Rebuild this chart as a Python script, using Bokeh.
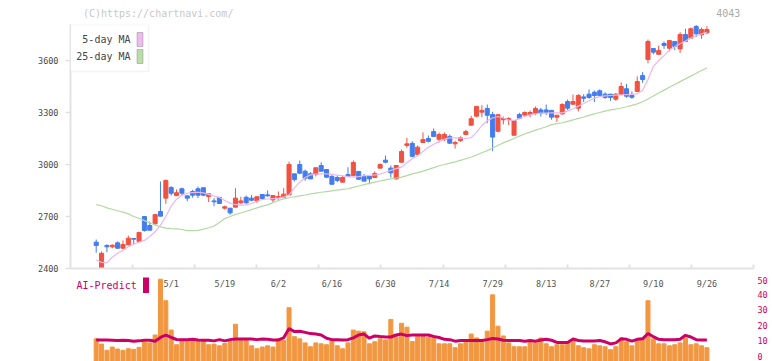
from bokeh.plotting import figure
from bokeh.layouts import column
from bokeh.models import Range1d, FixedTicker, LinearAxis, Label, BoxAnnotation, ColumnDataSource
from bokeh.embed import file_html
from bokeh.resources import INLINE
from bokeh.core.properties import value

# ---------------- data ----------------
opens = [2552,2402,2533,2525,2548,2517,2537,2573,2556,2700, 2648,2658,2729,2806,2867,2821,2860,2819,2844,2860,
         2866,2815,2790,2810,2748,2748,2754,2779,2811,2806, 2790,2827,2825,2796,2811,2810,2825,2946,3000,2961,
         2946,2942,2994,2971,2931,2925,2898,2942,2937,2960, 2931,2932,2925,2979,3025,2979,2917,3013,3110,3122,
         3058,3127,3150,3190,3146,3146,3162,3119,3138,3173, 3227,3279,3302,3323,3288,3192,3258,3258,3169,3288,
         3285,3288,3296,3315,3315,3312,3273,3292,3363,3348, 3325,3390,3406,3417,3425,3406,3406,3377,3406,3437,
         3398,3421,3513,3606,3669,3636,3698,3671,3710,3667, 3750,3729,3796,3748,3760]
highs = [2567,2498,2540,2540,2556,2562,2590,2573,2611,2700, 2671,2711,2902,2913,2875,2856,2867,2819,2854,2873,
         2866,2831,2806,2810,2763,2748,2863,2814,2821,2825, 2814,2827,2850,2821,2844,2863,3017,2946,3023,2971,
         2956,2981,3013,2971,2940,2937,2937,2984,3023,2960, 2946,2932,2960,3007,3052,2994,2994,3087,3154,3134,
         3110,3185,3167,3208,3185,3185,3173,3138,3162,3200, 3281,3335,3342,3346,3304,3292,3277,3273,3254,3298,
         3307,3311,3335,3327,3346,3315,3287,3354,3375,3404, 3406,3406,3433,3427,3433,3417,3406,3413,3473,3465,
         3421,3508,3533,3721,3669,3686,3710,3715,3710,3763, 3783,3790,3806,3790,3798]
lows = [2491,2398,2494,2517,2513,2513,2533,2542,2556,2613, 2621,2648,2702,2773,2821,2817,2817,2788,2808,2806,
        2817,2783,2759,2775,2740,2710,2754,2773,2773,2788, 2779,2798,2814,2783,2794,2810,2821,2902,2944,2906,
        2917,2932,2961,2923,2886,2898,2898,2931,2931,2912, 2904,2886,2925,2979,3007,2925,2913,3010,3096,3042,
        3058,3123,3127,3162,3127,3135,3119,3092,3131,3169, 3223,3273,3273,3238,3077,3186,3231,3227,3169,3261,
        3277,3273,3284,3277,3285,3258,3246,3288,3313,3344, 3306,3360,3379,3360,3390,3379,3367,3367,3402,3385,
        3379,3421,3471,3584,3636,3633,3667,3652,3660,3644, 3706,3725,3735,3725,3752]
closes = [2533,2488,2525,2534,2517,2538,2575,2569,2608,2619, 2621,2711,2702,2908,2834,2837,2834,2806,2823,2823,
          2823,2831,2785,2775,2756,2721,2806,2790,2779,2794, 2814,2804,2819,2821,2815,2829,3000,2913,2950,2921,
          2917,2981,2961,2927,2886,2908,2925,2931,3012,2915, 2904,2917,2948,3000,3013,2952,2994,3075,3119,3047,
          3100,3144,3134,3162,3173,3173,3123,3127,3154,3190, 3264,3335,3312,3284,3158,3287,3265,3265,3254,3267,
          3300,3300,3323,3296,3300,3273,3284,3346,3325,3363, 3398,3382,3387,3398,3398,3387,3387,3406,3450,3394,
          3388,3479,3490,3710,3648,3658,3687,3715,3681,3750, 3710,3783,3754,3779,3779]
ma5 = [2450,2435,2432,2465,2488,2505,2525,2540,2552,2562, 2585,2612,2650,2700,2760,2800,2822,2834,2838,2840,
       2836,2828,2818,2810,2792,2777,2768,2766,2767,2775, 2788,2798,2801,2803,2805,2812,2825,2865,2898,2925,
       2940,2945,2946,2946,2943,2939,2934,2930,2927,2930, 2935,2938,2940,2945,2955,2966,2976,2985,3010,3033,
       3050,3075,3100,3117,3132,3146,3154,3154,3152,3150, 3155,3185,3225,3252,3268,3277,3268,3256,3254,3265,
       3278,3287,3292,3296,3297,3298,3298,3298,3308,3322, 3337,3352,3368,3383,3392,3396,3398,3400,3401,3403,
       3405,3408,3428,3490,3565,3600,3628,3660,3680,3697, 3712,3729,3743,3754,3763]
ma25 = [2768,2762,2750,2742,2733,2725,2715,2700,2690,2676, 2663,2652,2640,2633,2630,2629,2625,2619,2618,2620,
        2627,2635,2645,2665,2688,2700,2712,2720,2730,2740, 2750,2760,2767,2780,2792,2802,2808,2814,2819,2824,
        2830,2835,2840,2844,2848,2852,2856,2860,2868,2876, 2884,2891,2898,2905,2911,2917,2922,2927,2936,2946,
        2953,2962,2972,2982,2993,3000,3008,3015,3024,3033, 3042,3055,3068,3080,3095,3110,3125,3138,3150,3164,
        3176,3187,3198,3208,3218,3230,3236,3241,3249,3257, 3266,3274,3283,3292,3300,3308,3315,3320,3326,3333,
        3341,3350,3362,3378,3395,3412,3429,3446,3462,3478, 3494,3510,3526,3542,3557]
volume = [11.1,7.7,3.7,5.8,4.5,3.7,4.7,4.3,5.6,9.0, 8.5,13.6,49.7,35.8,16.8,7.3,10.4,9.4,10.0,9.4,
          10.0,7.3,7.7,6.6,8.1,9.4,20.6,11.1,10.0,6.6, 4.7,5.8,6.6,5.8,11.1,10.0,31.3,12.5,11.1,8.5,
          6.0,8.5,7.9,7.3,10.0,6.6,4.7,8.5,16.8,16.1, 15.7,7.9,9.2,11.1,10.4,23.7,12.5,21.2,18.7,9.4,
          12.5,14.0,12.1,11.3,7.9,7.9,7.9,5.4,7.9,8.7, 14.2,11.7,10.0,16.1,39.6,19.3,13.0,8.5,6.0,6.0,
          6.0,9.8,8.5,11.7,7.9,6.0,7.3,7.3,8.5,10.4, 6.6,5.4,4.7,7.3,6.6,6.0,4.1,6.0,11.7,9.2,
          6.6,10.4,11.7,35.8,11.1,7.9,7.9,6.6,7.3,8.5, 11.7,7.3,7.9,6.6,5.4]
ai_predict = [10.4,10.4,10.4,10.2,10.0,10.2,10.0,9.5,9.8,10.2, 10.2,9.5,12.0,13.6,12.0,10.7,10.6,10.6,10.8,10.4,
              10.2,10.2,9.8,10.6,9.8,10.6,11.0,11.0,11.0,11.0, 10.6,11.0,10.8,10.4,10.4,11.8,17.8,15.8,16.0,15.3,
              14.5,14.2,13.6,11.5,10.6,10.6,10.4,10.6,11.7,13.6, 14.2,11.5,13.0,12.6,12.3,12.3,13.6,14.2,13.2,13.6,
              13.6,13.6,13.6,12.6,12.0,10.8,10.6,9.6,10.0,10.0, 10.0,10.0,10.0,10.6,11.3,11.0,10.2,10.0,10.0,10.0,
              9.6,10.0,9.6,10.4,10.8,10.2,8.8,8.7,8.8,11.0, 10.0,9.7,9.7,9.7,10.0,9.2,7.8,8.5,11.1,10.8,
              9.6,10.8,11.1,14.6,12.5,10.8,10.5,10.5,10.5,10.8, 13.4,12.3,10.6,10.4,10.4]
date_labels = ["5/1", "5/19", "6/2", "6/16", "6/30", "7/14", "7/29", "8/13", "8/27", "9/10", "9/26"]
date_label_idx = [14, 24, 34, 44, 54, 64, 74, 84, 94, 104, 114]
price_ticks = [2400, 2700, 3000, 3300, 3600]
ai_ticks = [0, 10, 20, 30, 40, 50]
watermark = "(C)https://chartnavi.com/"
code = "4043"

# ---------------- layout helpers (page pixel -> data) ----------------
W = 772
FRAME_L, FRAME_R = 70, 753
X_FIRST_PX, DAY_PX = 95.7, 5.357
def idx_at(px):
    return (px - X_FIRST_PX) / DAY_PX
def price_at(py):
    return price_ticks[0] + (268 - py) * 300 / 52
def ai_at(py):
    return (355.5 - py) / 1.544

MONO = "DejaVu Sans Mono"
UP, DOWN = "#f05242", "#437ded"
n = len(opens)
idx = list(range(n))
colors = [UP if c >= o else DOWN for o, c in zip(opens, closes)]
src = ColumnDataSource(dict(
    x=idx, o=opens, h=highs, l=lows, c=closes,
    top=[max(o, c) for o, c in zip(opens, closes)],
    bot=[min(o, c) for o, c in zip(opens, closes)],
    color=colors, ma5=ma5, ma25=ma25))

def bare(fig):
    fig.outline_line_color = None
    fig.grid.visible = False
    fig.background_fill_color = "white"
    fig.border_fill_color = "white"
    return fig

# ---------------- header strip (watermark + code) ----------------
head = bare(figure(width=W, height=24, output_backend="svg", toolbar_location=None,
                   x_range=Range1d(0, W), y_range=Range1d(24, 0),
                   x_axis_location=None, y_axis_location=None,
                   min_border_left=0, min_border_right=0, min_border_top=0, min_border_bottom=0))
head.text(x=[14], y=[12.5], text=[watermark], text_align="left", text_baseline="middle",
          text_font=value(MONO), text_font_size="10px", text_color="#c8c8c8")
head.text(x=[757], y=[12.5], text=[code], text_align="right", text_baseline="middle",
          text_font=value(MONO), text_font_size="10px", text_color="#aaaaaa")

# ---------------- price panel ----------------
xr0, xr1 = idx_at(FRAME_L), idx_at(FRAME_R)
top = bare(figure(width=W, height=252, output_backend="svg", toolbar_location=None,
                  x_range=Range1d(xr0, xr1),
                  y_range=Range1d(price_at(268), price_at(24)),
                  min_border_left=FRAME_L, min_border_right=W - FRAME_R,
                  min_border_top=0, min_border_bottom=8))

xa = top.xaxis[0]
xa.ticker = FixedTicker(ticks=[xr0 + (xr1 - xr0) * k / 11 for k in range(1, 12)])
xa.major_label_text_font_size = "0px"
xa.major_label_text_color = None
xa.major_label_standoff = 0
xa.major_tick_in = 4
xa.major_tick_out = 0
xa.minor_tick_line_color = None
xa.axis_line_color = "#e2e2e2"
xa.axis_line_width = 2
xa.major_tick_line_color = "#e2e2e2"
xa.major_tick_line_width = 2

ya = top.yaxis[0]
ya.ticker = FixedTicker(ticks=price_ticks)
ya.major_tick_in = 0
ya.major_tick_out = 5
ya.minor_tick_line_color = None
ya.axis_line_color = "#e2e2e2"
ya.axis_line_width = 2
ya.major_tick_line_color = "#e2e2e2"
ya.major_tick_line_width = 1.5
ya.major_label_standoff = 7
ya.major_label_text_font = MONO
ya.major_label_text_font_size = "8.5px"
ya.major_label_text_color = "#4a4a4a"

top.segment(x0="x", y0="l", x1="x", y1="h", color="color", line_width=1, source=src)
top.vbar(x="x", top="top", bottom="bot", width=0.76, fill_color="color", line_color="color",
         line_width=1, source=src)
top.line("x", "ma25", color="#b3d9a3", line_width=1.2, source=src)
top.line("x", "ma5", color="#ebb7eb", line_width=1.2, source=src)

# legend box (text left, swatch right, as in the reference)
top.add_layout(BoxAnnotation(left=idx_at(70), right=idx_at(148), top=price_at(24), bottom=price_at(71),
                             fill_color="white", fill_alpha=1, line_color="#dcdcdc", line_width=1.5))
for label, py, sw in (("5-day MA", 39, "#eebbee"), ("25-day MA", 56, "#bbddaa")):
    top.add_layout(Label(x=idx_at(130), y=price_at(py), text=label, text_align="right",
                         text_baseline="middle", text_font=MONO, text_font_size="10px",
                         text_color="#444444"))
    top.add_layout(BoxAnnotation(left=idx_at(136.5), right=idx_at(142.5), top=price_at(py - 7),
                                 bottom=price_at(py + 7), fill_color=sw, fill_alpha=1,
                                 line_color="#555555", line_width=1))

# ---------------- AI-Predict panel ----------------
bot = bare(figure(width=W, height=85, output_backend="svg", toolbar_location=None,
                  x_range=Range1d(xr0, xr1),
                  y_range=Range1d(ai_at(361), ai_at(276)),
                  x_axis_location=None, y_axis_location=None,
                  min_border_left=FRAME_L, min_border_right=W - FRAME_R,
                  min_border_top=0, min_border_bottom=0))

ra = LinearAxis(ticker=FixedTicker(ticks=ai_ticks), axis_line_color=None,
                major_tick_line_color=None, minor_tick_line_color=None,
                major_tick_in=0, major_tick_out=0, major_label_standoff=4,
                major_label_text_font=MONO, major_label_text_font_size="8.5px",
                major_label_text_color="#cc0066")
bot.add_layout(ra, "right")

bot.vbar(x=idx, top=volume, bottom=ai_at(361), width=0.75, color="#f29741")
bot.line(idx, ai_predict, color="#cc0066", line_width=3)

bot.text(x=date_label_idx, y=[ai_at(283)] * len(date_label_idx), text=date_labels,
         text_align="center", text_baseline="middle", text_font=value(MONO),
         text_font_size="8.5px", text_color="#555555")

bot.add_layout(Label(x=idx_at(76), y=ai_at(285), text="AI-Predict", text_align="left",
                     text_baseline="middle", text_font=MONO, text_font_size="10px",
                     text_color="#cc0066"))
bot.add_layout(BoxAnnotation(left=idx_at(142.5), right=idx_at(148.5), top=ai_at(277),
                             bottom=ai_at(292.5), fill_color="#cc0066", fill_alpha=1,
                             line_color=None))

layout = column(head, top, bot)
open("out.html", "w").write(file_html(layout, INLINE))
